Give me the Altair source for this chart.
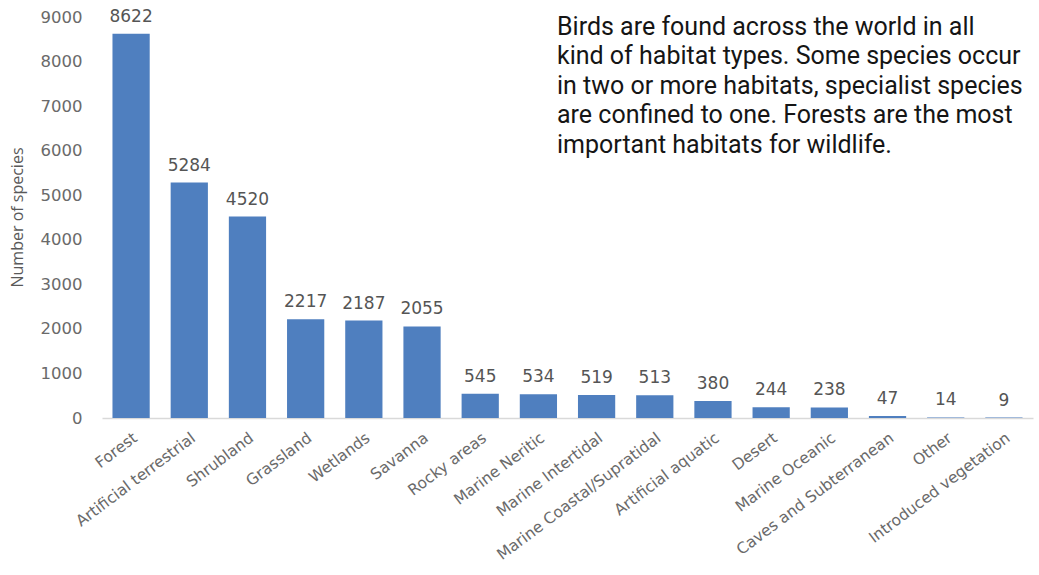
import altair as alt
import pandas as pd

habitats = ["Forest", "Artificial terrestrial", "Shrubland", "Grassland", "Wetlands",
            "Savanna", "Rocky areas", "Marine Neritic", "Marine Intertidal",
            "Marine Coastal/Supratidal", "Artificial aquatic", "Desert", "Marine Oceanic",
            "Caves and Subterranean", "Other", "Introduced vegetation"]
species = [8622, 5284, 4520, 2217, 2187, 2055, 545, 534, 519, 513, 380, 244, 238, 47, 14, 9]
y_ticks = [0, 1000, 2000, 3000, 4000, 5000, 6000, 7000, 8000, 9000]
note_lines = ["Birds are found across the world in all",
              "kind of habitat types. Some species occur",
              "in two or more habitats, specialist species",
              "are confined to one. Forests are the most",
              "important habitats for wildlife."]

df = pd.DataFrame({"habitat": habitats, "species": species})

x = alt.X("habitat:N", sort=habitats, title=None,
          scale=alt.Scale(paddingInner=0.36, paddingOuter=0.18),
          axis=alt.Axis(labelAngle=323, labelFont="DejaVu Sans", labelFontSize=15.5,
                        labelColor="#6a6a6a", ticks=False, domainColor="#d9d9d9",
                        domainWidth=1.5, labelPadding=12, labelLimit=0))
y = alt.Y("species:Q", title="Number of species",
          scale=alt.Scale(domain=[0, 9000], nice=False),
          axis=alt.Axis(values=y_ticks, format="d", grid=False, domain=False, ticks=False,
                        labelFont="DejaVu Sans", labelFontSize=16.5, labelColor="#6a6a6a",
                        labelPadding=20, titleFont="Open Sans", titleFontSize=16,
                        titleFontWeight="normal", titleColor="#595959",
                        titleX=-85, titleY=200, titleAngle=270,
                        titleAlign="center", titleBaseline="middle"))

bars = alt.Chart(df).mark_bar(color="#4f7fbf").encode(x=x, y=y)
labels = alt.Chart(df).mark_text(dy=-8, baseline="bottom", font="DejaVu Sans",
                                 fontSize=17, color="#555555").encode(
    x=alt.X("habitat:N", sort=habitats), y="species:Q", text="species:Q")

note = alt.Chart(pd.DataFrame({"t": [0]})).mark_text(
    text=note_lines, align="left", baseline="alphabetic", font="Roboto", fontSize=25,
    lineHeight=29.5, color="#151515").encode(x=alt.value(455), y=alt.value(17.5))

chart = alt.layer(bars, labels, note).properties(
    width=931, height=401,
    autosize=alt.AutoSizeParams(type="none"),
    padding={"left": 102, "top": 17, "right": 6, "bottom": 157},
).configure_view(stroke=None)

chart.save("out.html", embed_options={"renderer": "svg", "actions": False})
